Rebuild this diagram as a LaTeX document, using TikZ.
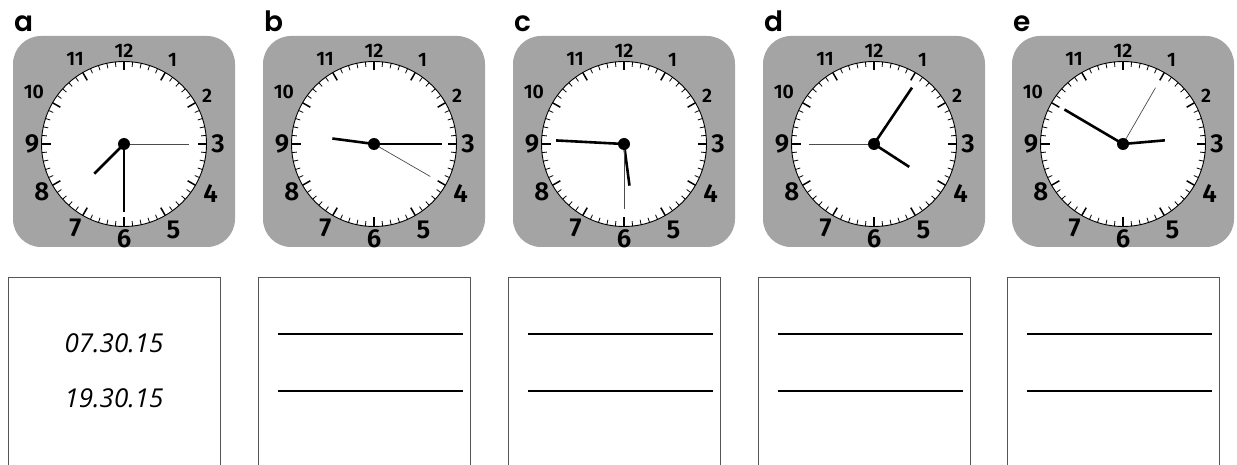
\documentclass[tikz,border=0pt]{standalone}
\usepackage{fontspec}
\setmainfont{Poppins}
\newfontfamily\labfont{Poppins}[UprightFont=* SemiBold]
\newfontfamily\numfont{Fira Sans}[UprightFont=* SemiBold]
\newfontfamily\handfont{Open Sans}
\usetikzlibrary{positioning}
\definecolor{clockgray}{HTML}{A4A4A4}
\definecolor{boxgray}{HTML}{555555}

\tikzset{
  clockbg/.style={fill=clockgray, rounded corners=28pt},
  face/.style={circle, draw=black, fill=white, line width=0.9pt,
               minimum size=165pt, inner sep=0pt},
  hourtick/.style={line width=1.5pt},
  mintick/.style={line width=0.8pt},
  bighand/.style={line width=2.6pt},
  sechand/.style={line width=0.7pt, black!70},
  hub/.style={circle, fill=black, minimum size=12pt, inner sep=0pt},
  numsmall/.style={font=\numfont\fontsize{19.5}{19.5}\selectfont, inner sep=0pt},
  numbig/.style={font=\numfont\fontsize{26}{26}\selectfont, inner sep=0pt},
  letter/.style={font=\labfont\fontsize{28}{28}\selectfont, anchor=base west, inner sep=0pt},
  answerbox/.style={draw=boxgray, line width=1pt},
  writeline/.style={line width=1.4pt},
  handwriting/.style={font=\handfont\itshape\fontsize{26}{26}\selectfont},
}

\begin{document}
\begin{tikzpicture}[x=1pt, y=1pt]
  \useasboundingbox (0,0) rectangle (1237,-465);

  % clocks
  \foreach \cx/\lab/\hr/\mn/\sc [count=\i] in
      {124/a/225/180/90, 374/b/277.5/90/120, 624/c/172.5/273/180,
       874/d/123/34/270, 1123/e/85/300.5/30} {
    \fill[clockbg] (\cx-111,-36) rectangle (\cx+111,-247);
    \node[letter] (lab\i) at (\cx-110,-32) {\lab};
    \begin{scope}[shift={(\cx,-144)}]
      \node[face] (face\i) at (0,0) {};
      \foreach \k in {0,...,59} {
        \pgfmathtruncatemacro\isHour{mod(\k,5)==0}
        \ifnum\isHour=1
          \draw[hourtick] ({6*\k}:82.5) -- ({6*\k}:73.5);
        \else
          \draw[mintick] ({6*\k}:82.5) -- ({6*\k}:77.5);
        \fi
      }
      \foreach \n/\r/\s in {12/93/numsmall, 1/97/numsmall, 2/96/numsmall,
                            3/94/numbig, 4/100/numbig, 5/99/numbig,
                            6/95/numbig, 7/97/numbig, 8/95/numbig,
                            9/92/numbig, 10/104/numsmall, 11/98/numsmall}
        \node[\s] (num\i-\n) at ({90-30*\n}:\r) {\n};
      \coordinate (mid\i) at (0,0);
      \coordinate (htip\i) at ({90-\hr}:42);
      \coordinate (mtip\i) at ({90-\mn}:68);
      \coordinate (stip\i) at ({90-\sc}:65);
      \draw[bighand] (mid\i) -- (htip\i);
      \draw[bighand] (mid\i) -- (mtip\i);
      \draw[sechand] (mid\i) -- (stip\i);
      \node[hub] (hub\i) at (mid\i) {};
    \end{scope}
    % answer box, open at the bottom
    \draw[answerbox] (\cx-116,-465) -- (\cx-116,-277) -- (\cx+96,-277) -- (\cx+96,-465);
  }

  % box a
  \node[handwriting] (timeam) at (114,-343) {07.30.15};
  \node[handwriting] (timepm) at (114,-398) {19.30.15};

  % boxes b to e
  \foreach \cx in {374,624,874,1123} {
    \draw[writeline] (\cx-96,-334) -- (\cx+89,-334);
    \draw[writeline] (\cx-96,-391) -- (\cx+89,-391);
  }
\end{tikzpicture}
\end{document}
